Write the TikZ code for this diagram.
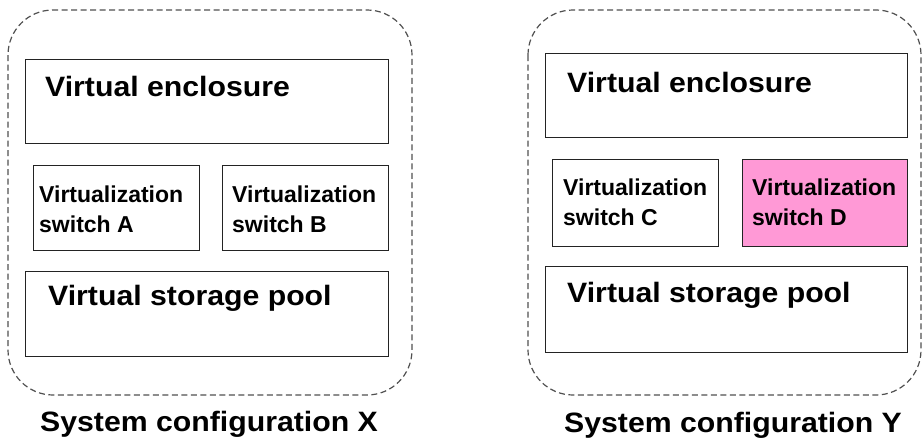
\documentclass[tikz,border=0pt]{standalone}
\usepackage{fontspec}
\setmainfont{Liberation Sans}
\newfontfamily\bigfont[FakeStretch=1.08]{Liberation Sans Bold}
\newfontfamily\smallfont{Liberation Sans Bold}
\definecolor{pinkfill}{RGB}{255,153,214}
\definecolor{frame}{RGB}{35,35,35}
\definecolor{dashgray}{RGB}{80,80,80}
\begin{document}
\begin{tikzpicture}[x=1pt,y=-1pt,
  box/.style={draw=frame,line width=1.4pt,fill=white,inner sep=0pt,anchor=north west},
  container/.style={draw=dashgray,line width=1.2pt,dash pattern=on 6pt off 3.5pt,rounded corners=45pt},
  bigtext/.style={font=\bigfont\fontsize{28}{30}\selectfont,inner sep=0pt,anchor=base west},
  smalltext/.style={font=\smallfont\fontsize{23}{30}\selectfont,inner sep=0pt,anchor=base west,align=left},
  caption/.style={font=\bigfont\fontsize{28}{30}\selectfont,inner sep=0pt,anchor=base}]
\useasboundingbox (0,0) rectangle (923,439);
% containers
\draw[container] (8,10) rectangle (412,395);
\draw[container] (528,10) rectangle (921,395);
% configuration X
\node[box,minimum width=363pt,minimum height=84pt] (encX) at (25,59) {};
\node[bigtext] (encXt) at (45,96) {Virtual enclosure};
\node[box,minimum width=166pt,minimum height=85pt] (swA) at (33,165) {};
\node[smalltext] (swAt) at (39,232) {Virtualization\\switch A};
\node[box,minimum width=166pt,minimum height=85pt] (swB) at (222,165) {};
\node[smalltext] (swBt) at (232,232) {Virtualization\\switch B};
\node[box,minimum width=363pt,minimum height=85pt] (poolX) at (25,271) {};
\node[bigtext] (poolXt) at (48,305) {Virtual storage pool};
\node[caption] (capX) at (209,431) {System configuration X};
% configuration Y
\node[box,minimum width=362pt,minimum height=84pt] (encY) at (545,53) {};
\node[bigtext] (encYt) at (567,92) {Virtual enclosure};
\node[box,minimum width=166pt,minimum height=87pt] (swC) at (552,159) {};
\node[smalltext] (swCt) at (563,225) {Virtualization\\switch C};
\node[box,fill=pinkfill,minimum width=165pt,minimum height=87pt] (swD) at (742,159) {};
\node[smalltext] (swDt) at (752,225) {Virtualization\\switch D};
\node[box,minimum width=362pt,minimum height=86pt] (poolY) at (545,266) {};
\node[bigtext] (poolYt) at (567,302) {Virtual storage pool};
\node[caption] (capY) at (733,432) {System configuration Y};
\end{tikzpicture}
\end{document}
